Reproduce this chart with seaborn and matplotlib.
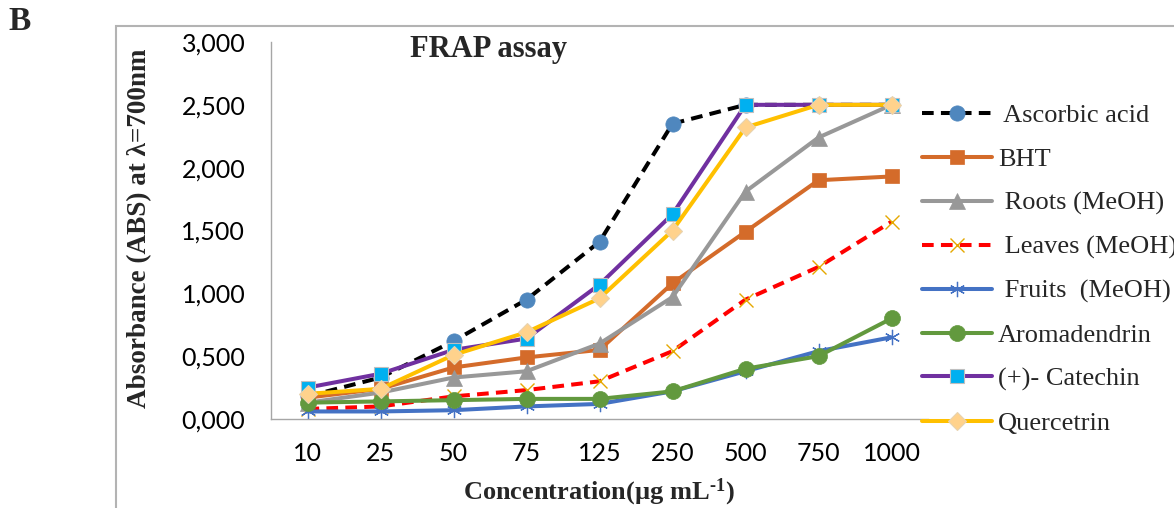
import numpy as np
import matplotlib
matplotlib.use("Agg")
import matplotlib.pyplot as plt
import seaborn as sns
from matplotlib.patches import Rectangle
from matplotlib.ticker import FixedLocator

# ---------------- data ----------------
concentrations = ['10', '25', '50', '75', '125', '250', '500', '750', '1000']
ascorbic_acid = [0.18, 0.33, 0.62, 0.95, 1.41, 2.35, 2.50, 2.50, 2.50]
bht = [0.17, 0.24, 0.41, 0.49, 0.55, 1.08, 1.49, 1.90, 1.93]
roots_meoh = [0.13, 0.21, 0.33, 0.38, 0.60, 0.97, 1.81, 2.24, 2.50]
leaves_meoh = [0.08, 0.10, 0.18, 0.23, 0.30, 0.54, 0.95, 1.21, 1.57]
fruits_meoh = [0.06, 0.06, 0.07, 0.10, 0.12, 0.22, 0.38, 0.54, 0.65]
aromadendrin = [0.13, 0.14, 0.15, 0.16, 0.16, 0.22, 0.40, 0.50, 0.80]
catechin = [0.25, 0.36, 0.55, 0.64, 1.07, 1.63, 2.50, 2.50, 2.50]
quercetrin = [0.20, 0.24, 0.51, 0.69, 0.96, 1.50, 2.32, 2.50, 2.50]

series_labels = [' Ascorbic acid', 'BHT', ' Roots (MeOH)', ' Leaves (MeOH)',
                 ' Fruits  (MeOH)', 'Aromadendrin', '(+)- Catechin', 'Quercetrin']
ytick_values = [0.0, 0.5, 1.0, 1.5, 2.0, 2.5, 3.0]
ytick_labels = ['0,000', '0,500', '1,000', '1,500', '2,000', '2,500', '3,000']

# ---------------- style ----------------
sns.set_style("white")
plt.rcParams['font.family'] = ['Lato', 'DejaVu Sans']
plt.rcParams['mathtext.fontset'] = 'custom'
plt.rcParams['mathtext.rm'] = 'Liberation Serif:bold'
plt.rcParams['mathtext.it'] = 'Liberation Serif:bold'
plt.rcParams['mathtext.bf'] = 'Liberation Serif:bold'

W, H = 1174, 508
fig = plt.figure(figsize=(W / 100, H / 100), dpi=100)
ax = fig.add_axes([271 / W, 1 - 419 / H, (928 - 271) / W, (419 - 42) / H])

dash = (0, (2.9, 1.8))
styles = [
    dict(color='black', linestyle=dash, marker='o', markersize=11,
         markerfacecolor='#4F87BE', markeredgecolor='#4F87BE', markeredgewidth=0.5),
    dict(color='#D46B2A', linestyle='-', marker='s', markersize=10.5,
         markerfacecolor='#D46B2A', markeredgecolor='#D46B2A', markeredgewidth=0.5),
    dict(color='#989898', linestyle='-', marker='^', markersize=11,
         markerfacecolor='#989898', markeredgecolor='#989898', markeredgewidth=0.5),
    dict(color='#FF0000', linestyle=dash, marker='x', markersize=10.5,
         markerfacecolor='#E5A800', markeredgecolor='#E5A800', markeredgewidth=1.0),
    dict(color='#4472C4', linestyle='-', marker=(6, 2, 0), markersize=11,
         markerfacecolor='#4472C4', markeredgecolor='#4472C4', markeredgewidth=0.9),
    dict(color='#62993E', linestyle='-', marker='o', markersize=11.5,
         markerfacecolor='#62993E', markeredgecolor='#62993E', markeredgewidth=0.5),
    dict(color='#7030A0', linestyle='-', marker='s', markersize=10.5,
         markerfacecolor='#00B0F0', markeredgecolor='#BFBFBF', markeredgewidth=0.8),
    dict(color='#FFC000', linestyle='-', marker='D', markersize=9,
         markerfacecolor='#FFD28C', markeredgecolor='#E8D3B0', markeredgewidth=0.8),
]
all_series = [ascorbic_acid, bht, roots_meoh, leaves_meoh, fruits_meoh,
              aromadendrin, catechin, quercetrin]

for vals, lab, st in zip(all_series, series_labels, styles):
    sns.lineplot(x=concentrations, y=vals, ax=ax, sort=False, legend=False,
                 linewidth=2.9, label=lab, **st)

# ---------------- axes ----------------
ax.set_xlim(-0.5, 8.5)
ax.set_ylim(0, 3)
ax.set_yticks(ytick_values)
ax.set_yticklabels(ytick_labels)
ax.set_xticks(range(len(concentrations)))
ax.set_xticklabels(concentrations)
ax.xaxis.set_minor_locator(FixedLocator(np.arange(-0.5, 9.0, 1.0)))
ax.tick_params(axis='x', which='major', length=0, pad=16.5, labelsize=18, colors='black')
ax.tick_params(axis='x', which='minor', length=6, width=1, color='#A6A6A6', direction='out')
ax.tick_params(axis='y', which='major', length=4.5, width=1, color='#A6A6A6',
               direction='out', pad=14, labelsize=18, labelcolor='black')
for s in ['top', 'right']:
    ax.spines[s].set_visible(False)
for s in ['left', 'bottom']:
    ax.spines[s].set_color('#A6A6A6')
    ax.spines[s].set_linewidth(1.0)
ax.set_xlabel('')
ax.set_ylabel('')
ax.grid(False)

# ---------------- texts ----------------
serif = 'Liberation Serif'
fig.text(489 / W, 1 - 50 / H, 'FRAP assay', ha='center', va='center',
         fontfamily=serif, fontweight='bold', fontsize=22)
fig.text(140 / W, 1 - 228 / H, 'Absorbance (ABS) at λ=700nm', rotation=90,
         ha='center', va='center', fontfamily=serif, fontweight='bold', fontsize=19.5)
fig.text(599 / W, 1 - 492 / H, r'Concentration(µg mL$^{\text{-1}}$)', ha='center', va='center',
         fontfamily=serif, fontweight='bold', fontsize=19)
fig.text(20 / W, 1 - 22 / H, 'B', ha='center', va='center',
         fontfamily=serif, fontweight='bold', fontsize=24)

# frame of the chart area
fig.patches.append(Rectangle((116 / W, -0.2), 2.0, 1.2 - 26 / H,
                             transform=fig.transFigure, fill=False,
                             edgecolor='#B3B3B3', linewidth=1.5, clip_on=False))

# ---------------- legend ----------------
handles, labels = ax.get_legend_handles_labels()
leg = ax.legend(handles, labels, loc='upper left',
                bbox_to_anchor=(922 / W, 1 - 104 / H), bbox_transform=fig.transFigure,
                frameon=False, borderpad=0, borderaxespad=0, handlelength=2.65,
                handletextpad=0.22, labelspacing=0.765, numpoints=1,
                prop={'family': serif, 'size': 19})

fig.savefig('out.png', dpi=100)
